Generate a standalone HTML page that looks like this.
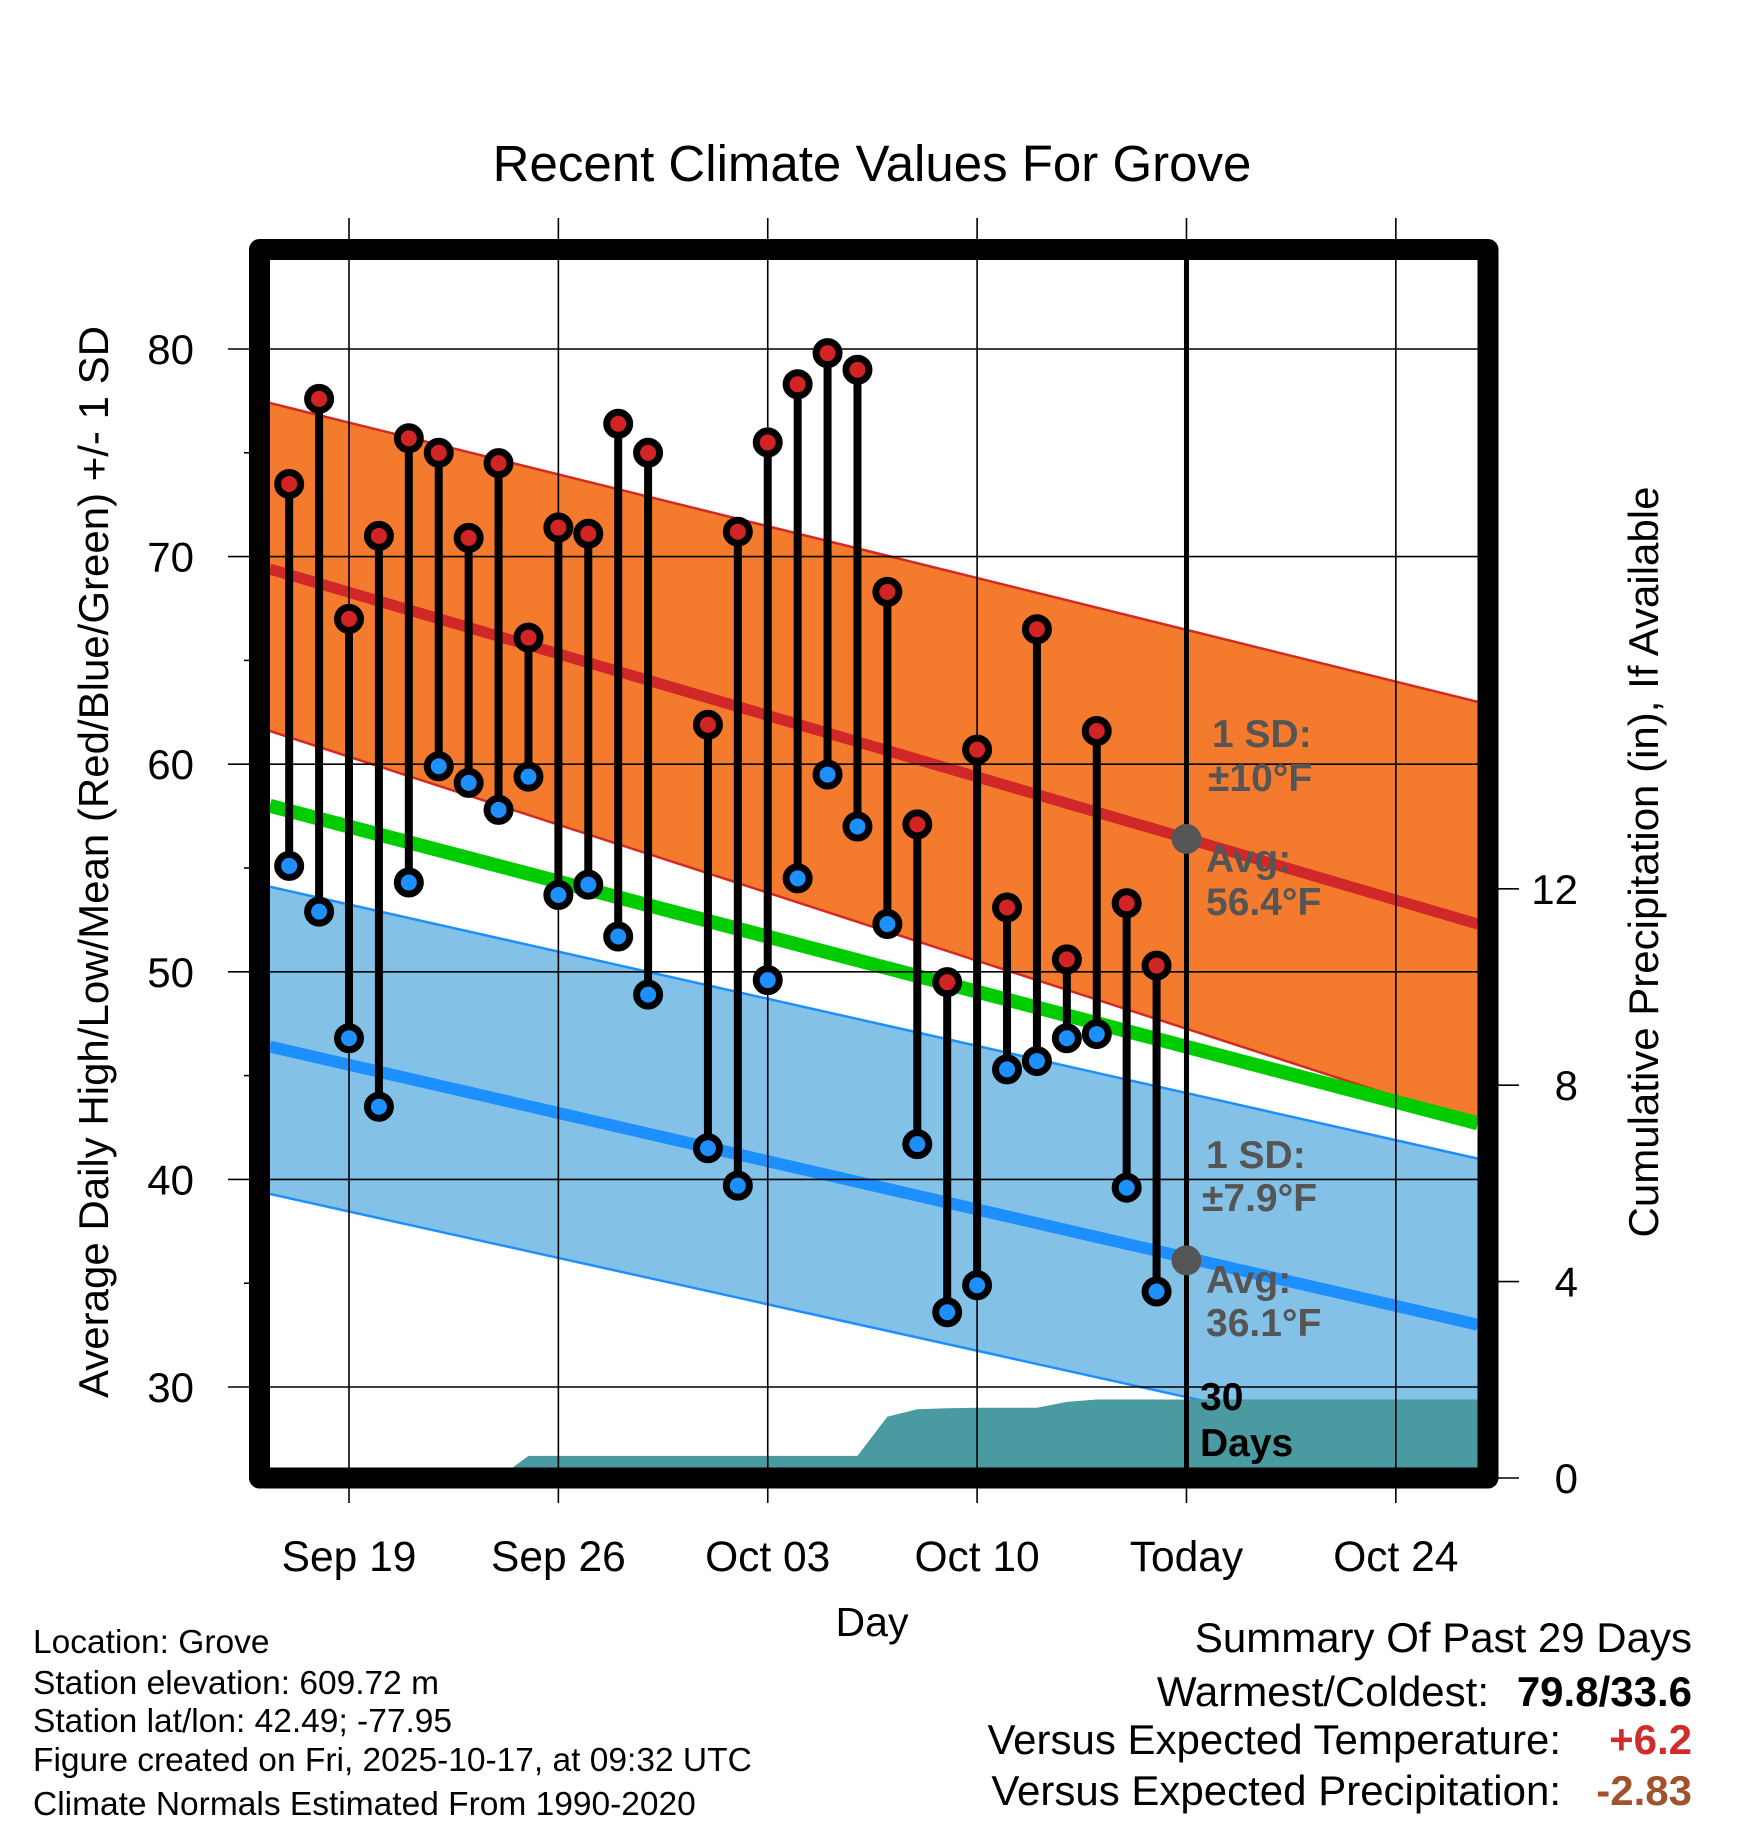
<!DOCTYPE html>
<html><head><meta charset="utf-8"><style>
html,body{margin:0;padding:0;background:#fff;}
svg{display:block;font-family:"Liberation Sans",Arial,sans-serif;}
</style></head><body>
<svg id="chart" width="1748" height="1828" viewBox="0 0 1748 1828" xmlns="http://www.w3.org/2000/svg">
<defs><clipPath id="plotclip"><rect x="270" y="260" width="1208" height="1208"/></clipPath></defs>
<text x="872" y="181" font-size="51" text-anchor="middle">Recent Climate Values For Grove</text>
<g id="bands" clip-path="url(#plotclip)"></g>
<g id="grid"></g>
<g id="marks" clip-path="url(#plotclip)"></g>
<g id="axes"></g>
<g id="annot" font-weight="bold" font-size="39" fill="#555">
<text x="1212" y="747">1 SD:</text>
<text x="1208" y="791">±10°F</text>
<text x="1206" y="872">Avg:</text>
<text x="1206" y="915">56.4°F</text>
<text x="1206" y="1168">1 SD:</text>
<text x="1202" y="1211">±7.9°F</text>
<text x="1206" y="1293">Avg:</text>
<text x="1206" y="1336">36.1°F</text>
<text x="1200" y="1410" fill="#000">30</text>
<text x="1200" y="1456" fill="#000">Days</text>
</g>
<text x="872" y="1636" font-size="41" text-anchor="middle">Day</text>
<text transform="translate(108,862) rotate(-90)" font-size="42" text-anchor="middle">Average Daily High/Low/Mean (Red/Blue/Green) +/- 1 SD</text>
<text transform="translate(1658,862) rotate(-90)" font-size="42" text-anchor="middle">Cumulative Precipitation (in), If Available</text>
<g font-size="33.5">
<text x="33" y="1653">Location: Grove</text>
<text x="33" y="1694">Station elevation: 609.72 m</text>
<text x="33" y="1732">Station lat/lon: 42.49; -77.95</text>
<text x="33" y="1771">Figure created on Fri, 2025-10-17, at 09:32 UTC</text>
<text x="33" y="1815">Climate Normals Estimated From 1990-2020</text>
</g>
<g font-size="42" text-anchor="end">
<text x="1692" y="1652">Summary Of Past 29 Days</text>
<text x="1489" y="1706">Warmest/Coldest:</text>
<text x="1692" y="1706" font-weight="bold">79.8/33.6</text>
<text x="1561" y="1754">Versus Expected Temperature:</text>
<text x="1692" y="1754" font-weight="bold" fill="#d22b2b">+6.2</text>
<text x="1561" y="1805">Versus Expected Precipitation:</text>
<text x="1692" y="1805" font-weight="bold" fill="#a0522d">-2.83</text>
</g>
</svg>
<script>
// day offsets relative to Sep 19
const obsDays = [-2,-1,0,1,2,3,4,5,6,7,8,9,10,12,13,14,15,16,17,18,19,20,21,22,23,24,25,26,27];
const highs = [73.5,77.6,67.0,71.0,75.7,75.0,70.9,74.5,66.1,71.4,71.1,76.4,75.0,61.9,71.2,75.5,78.3,79.8,79.0,68.3,57.1,49.5,60.7,53.1,66.5,50.6,61.6,53.3,50.3];
const lows = [55.1,52.9,46.8,43.5,54.3,59.9,59.1,57.8,59.4,53.7,54.2,51.7,48.9,41.5,39.7,49.6,54.5,59.5,57.0,52.3,41.7,33.6,34.9,45.3,45.7,46.8,47.0,39.6,34.6];
const precipDays = [-2,-1,0,1,2,3,4,5,6,7,8,9,10,11,12,13,14,15,16,17,18,19,20,21,22,23,24,25,26,27,38];
const precipCum = [0,0,0,0,0,0,0,0,0.45,0.45,0.45,0.45,0.45,0.45,0.45,0.45,0.45,0.45,0.45,0.45,1.25,1.40,1.42,1.43,1.43,1.43,1.55,1.60,1.60,1.60,1.60];
const normDays = [-2.65, 37.74];
const normHighTop = [77.4, 63.0];
const normHigh = [69.4, 52.3];
const normHighBot = [61.6, 42.7];
const normMean = [58.0, 42.7];
const normLowTop = [54.1, 41.0];
const normLow = [46.4, 33.0];
const normLowBot = [39.3, 26.4];
const xTickDays = [0,7,14,21,28,35];
const xTickLabels = ["Sep 19","Sep 26","Oct 03","Oct 10","Today","Oct 24"];
const yTicks = [30,40,50,60,70,80];
const yMinor = [35,45,55,65,75];
const pTicks = [0,4,8,12];
const todayDay = 28, todayHigh = 56.4, todayLow = 36.1;

const NS="http://www.w3.org/2000/svg";
const X = d => 349 + d*29.91;
const Y = v => 349 + (80 - v)*20.76;
const YP = p => 1478 - p*49.1;
function el(parent, tag, attrs){const e=document.createElementNS(NS,tag);for(const k in attrs)e.setAttribute(k,attrs[k]);parent.appendChild(e);return e;}
const bands=document.getElementById('bands'), grid=document.getElementById('grid'), marks=document.getElementById('marks'), axes=document.getElementById('axes');
function line2(vals){return X(normDays[0])+','+Y(vals[0])+' '+X(normDays[1])+','+Y(vals[1]);}
function band(top,bot,fill,stroke,name){
  const p=el(bands,'polygon',{points:X(normDays[0])+','+Y(top[0])+' '+X(normDays[1])+','+Y(top[1])+' '+X(normDays[1])+','+Y(bot[1])+' '+X(normDays[0])+','+Y(bot[0]),fill:fill});
  
  
  const a=el(bands,'polyline',{points:line2(top),stroke:stroke,'stroke-width':2.5,fill:'none'});
  
  
  const b=el(bands,'polyline',{points:line2(bot),stroke:stroke,'stroke-width':2.5,fill:'none'});
  
  
}
band(normHighTop,normHighBot,'#f47a2e','#d42a22','high-sd-band');
band(normLowTop,normLowBot,'#84c1e7','#1e8fff','low-sd-band');
let l;
l=el(bands,'polyline',{points:line2(normHigh),stroke:'#d02828','stroke-width':11,fill:'none'});


l=el(bands,'polyline',{points:line2(normMean),stroke:'#00cc00','stroke-width':14,fill:'none'});


l=el(bands,'polyline',{points:line2(normLow),stroke:'#1e8fff','stroke-width':12,fill:'none'});


// precip area
let pts=X(precipDays[0])+','+YP(0);
for(let i=0;i<precipDays.length;i++) pts+=' '+X(precipDays[i])+','+YP(precipCum[i]);
pts+=' '+X(precipDays[precipDays.length-1])+','+YP(0);
const pa=el(bands,'polygon',{points:pts,fill:'#4a9aa2'});


// grid
yTicks.forEach(v=>{const g=el(grid,'line',{x1:228,x2:1478,y1:Y(v),y2:Y(v),stroke:'#000','stroke-width':1.6});


const t=el(axes,'text',{x:194,y:Y(v)+15,'font-size':42,'text-anchor':'end'});t.textContent=v;

});
yMinor.forEach(v=>{const g=el(grid,'line',{x1:244,x2:260,y1:Y(v),y2:Y(v),stroke:'#000','stroke-width':1.6});

});
xTickDays.forEach((d,i)=>{const g=el(grid,'line',{x1:X(d),x2:X(d),y1:218,y2:1503,stroke:'#000','stroke-width':1.6});


const t=el(axes,'text',{x:X(d),y:1571,'font-size':42.5,'text-anchor':'middle'});t.textContent=xTickLabels[i];

});
pTicks.forEach(p=>{const g=el(grid,'line',{x1:1488,x2:1519,y1:YP(p),y2:YP(p),stroke:'#000','stroke-width':1.6});


const t=el(axes,'text',{x:1578,y:YP(p)+15,'font-size':42,'text-anchor':'end'});t.textContent=p;

});
// today line
l=el(marks,'line',{x1:X(todayDay),x2:X(todayDay),y1:250,y2:1478,stroke:'#000','stroke-width':5});


// stems and markers
obsDays.forEach((d,i)=>{
  const s=el(marks,'line',{x1:X(d),x2:X(d),y1:Y(highs[i]),y2:Y(lows[i]),stroke:'#000','stroke-width':8});
  
  
});
obsDays.forEach((d,i)=>{
  const h=el(marks,'circle',{cx:X(d),cy:Y(highs[i]),r:11.5,fill:'#d22424',stroke:'#000','stroke-width':7});
  
  
  const lo=el(marks,'circle',{cx:X(d),cy:Y(lows[i]),r:11.5,fill:'#1e8fff',stroke:'#000','stroke-width':7});
  
  
});
let c=el(marks,'circle',{cx:X(todayDay),cy:Y(todayHigh),r:15,fill:'#555'});


c=el(marks,'circle',{cx:X(todayDay),cy:Y(todayLow),r:15,fill:'#555'});


// frame
const f=el(axes,'rect',{x:259.5,y:249.5,width:1228.5,height:1228.5,fill:'none',stroke:'#000','stroke-width':21,'stroke-linejoin':'round'});


</script>
</body></html>
